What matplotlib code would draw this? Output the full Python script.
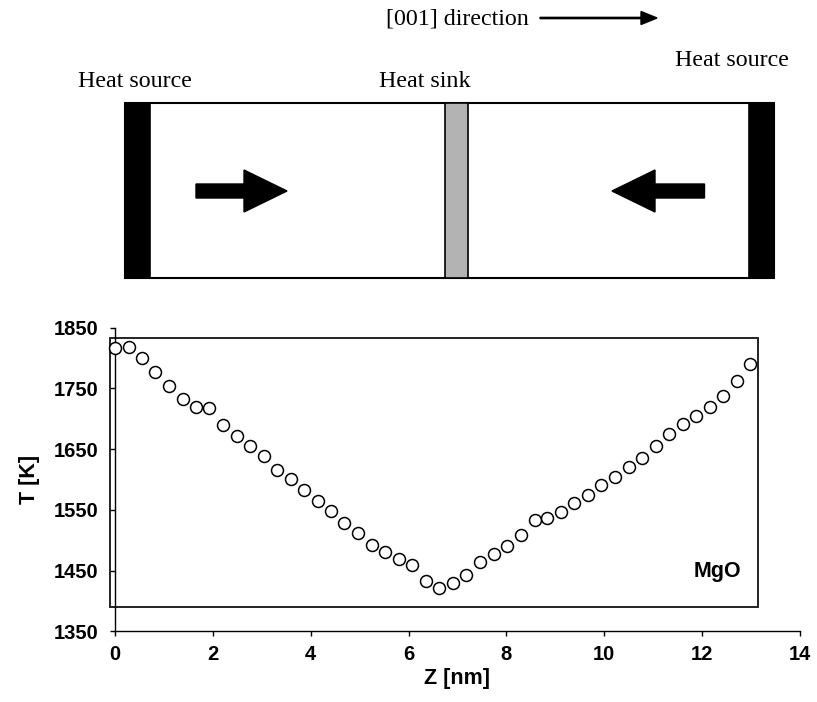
#!/usr/bin/env python3
"""
Temperature profile along [001] in MgO (non-equilibrium MD setup).

Top: schematic of the simulation cell (heat sources at both ends, heat sink in the middle).
Bottom: T [K] versus position Z [nm].
"""

import matplotlib
matplotlib.use("Agg")
import matplotlib.pyplot as plt
from matplotlib.patches import Rectangle, FancyArrow

FIG_W, FIG_H, DPI = 817, 702, 100

# Temperature profile
Z_NM = [0.00, 0.28, 0.56, 0.82, 1.10, 1.38, 1.66, 1.93, 2.21, 2.49,
        2.76, 3.04, 3.31, 3.59, 3.86, 4.14, 4.41, 4.69, 4.97, 5.25,
        5.52, 5.80, 6.08, 6.35, 6.63, 6.90, 7.17, 7.46, 7.74, 8.01,
        8.29, 8.58, 8.83, 9.12, 9.39, 9.67, 9.94, 10.22, 10.50, 10.77,
        11.06, 11.33, 11.61, 11.88, 12.16, 12.43, 12.71, 12.98]
T_K = [1817, 1818, 1800, 1777, 1754, 1733, 1720, 1717, 1690, 1672,
       1656, 1638, 1616, 1601, 1583, 1564, 1548, 1529, 1512, 1492,
       1480, 1469, 1459, 1433, 1422, 1429, 1443, 1464, 1477, 1491,
       1509, 1533, 1536, 1546, 1562, 1575, 1591, 1605, 1621, 1636,
       1656, 1675, 1691, 1705, 1720, 1737, 1763, 1791]

X_TICKS = [0, 2, 4, 6, 8, 10, 12, 14]
Y_TICKS = [1350, 1450, 1550, 1650, 1750, 1850]

SERIF = ["Liberation Serif", "DejaVu Serif"]
SANS = ["Liberation Sans", "DejaVu Sans"]


def draw_schematic(fig):
    """Simulation cell sketch, in pixel units of the figure."""
    ax = fig.add_axes([0, 0, 1, 1], zorder=0)
    ax.set_xlim(0, FIG_W)
    ax.set_ylim(FIG_H, 0)
    ax.axis("off")
    ax.patch.set_visible(False)

    top, bottom = 103, 278
    h = bottom - top
    # outer box
    ax.add_patch(Rectangle((125.5, top), 648.5, h, fill=False, lw=1.5, ec="black"))
    # heat sources (black) and sink (grey)
    ax.add_patch(Rectangle((125.5, top), 24.5, h, fc="black", ec="black", lw=1.2))
    ax.add_patch(Rectangle((749, top), 25, h, fc="black", ec="black", lw=1.2))
    ax.add_patch(Rectangle((445, top), 23, h, fc="#b3b3b3", ec="black", lw=1.2))

    # heat flux arrows
    ax.add_patch(FancyArrow(196, 191, 91, 0, width=14, head_width=42, head_length=43,
                            length_includes_head=True, fc="black", ec="black"))
    ax.add_patch(FancyArrow(704.5, 191, -92.5, 0, width=14, head_width=42, head_length=43,
                            length_includes_head=True, fc="black", ec="black"))

    # labels
    ax.text(78, 87, "Heat source", family=SERIF, fontsize=17.3, va="baseline")
    ax.text(379, 87, "Heat sink", family=SERIF, fontsize=17.3, va="baseline")
    ax.text(675, 66, "Heat source", family=SERIF, fontsize=17.3, va="baseline")
    ax.text(386, 24, "[001] direction", family=SERIF, fontsize=17.3, va="baseline")
    ax.add_patch(FancyArrow(540, 18, 117, 0, width=1.3, head_width=13, head_length=16,
                            length_includes_head=True, fc="black", ec="black"))


def draw_profile(fig):
    """Scatter of T vs Z with an Excel-like plot-area frame."""
    left, right = 115, 800
    top, bottom = 327.7, 631.4
    ax = fig.add_axes([left / FIG_W, 1 - bottom / FIG_H,
                       (right - left) / FIG_W, (bottom - top) / FIG_H], zorder=1)
    ax.patch.set_visible(False)

    ax.plot(Z_NM, T_K, linestyle="none", marker="o", ms=8.6, mfc="white",
            mec="black", mew=1.1, clip_on=False, zorder=3)

    ax.set_xlim(0, 14)
    ax.set_ylim(1350, 1850)
    ax.set_xticks(X_TICKS)
    ax.set_yticks(Y_TICKS)

    for side in ("top", "right"):
        ax.spines[side].set_visible(False)
    for side in ("left", "bottom"):
        ax.spines[side].set_linewidth(1.0)

    ax.tick_params(direction="out", length=3.8, width=1.0)
    ax.tick_params(axis="y", pad=8)
    ax.tick_params(axis="x", pad=6)
    for lab in ax.get_xticklabels() + ax.get_yticklabels():
        lab.set_fontfamily(SANS)
        lab.set_fontweight("bold")
        lab.set_fontsize(14.5)

    ax.set_xlabel("Z [nm]", family=SANS, fontweight="bold", fontsize=15.5, labelpad=3)
    ax.set_ylabel("T [K]", family=SANS, fontweight="bold", fontsize=15.5, labelpad=10)

    # plot-area frame (offset from the axis lines, as in the original)
    ax.add_patch(Rectangle((-0.1, 1390.7), 13.25, 441.8, fill=False, lw=1.4,
                           ec="#222222", clip_on=False, zorder=2))

    ax.text(12.79, 1440, "MgO", family=SANS, fontweight="bold", fontsize=15.5,
            ha="right", va="baseline")
    return ax


def main():
    fig = plt.figure(figsize=(FIG_W / DPI, FIG_H / DPI), dpi=DPI)
    fig.patch.set_facecolor("white")
    draw_schematic(fig)
    draw_profile(fig)
    fig.savefig("out.png", dpi=DPI)
    plt.close(fig)


if __name__ == "__main__":
    main()
